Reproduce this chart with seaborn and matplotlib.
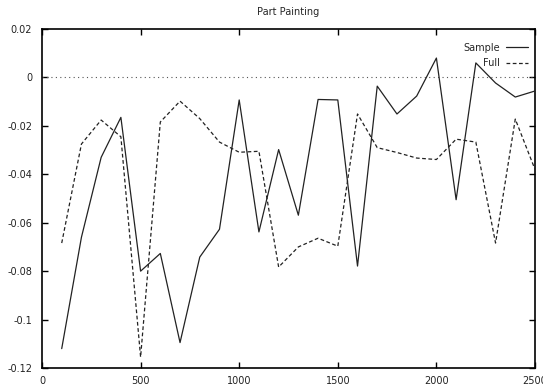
import matplotlib
matplotlib.use("Agg")
import matplotlib.pyplot as plt
import seaborn as sns
import pandas as pd
from matplotlib.ticker import FuncFormatter, FixedLocator

sns.set_theme(style="white")
plt.rcParams["font.family"] = ["DejaVu Sans"]
plt.rcParams["axes.unicode_minus"] = False

# Sample sizes along the x axis
steps = [100, 200, 300, 400, 500, 600, 700, 800, 900, 1000,
         1100, 1200, 1300, 1400, 1500, 1600, 1700, 1800, 1900, 2000,
         2100, 2200, 2300, 2400, 2500]

sample = [-0.112, -0.066, -0.033, -0.0165, -0.080, -0.0727, -0.1095, -0.0742, -0.0627, -0.0093,
          -0.0638, -0.0298, -0.0569, -0.0091, -0.0093, -0.0779, -0.0036, -0.0151, -0.0077, 0.0080,
          -0.0505, 0.0060, -0.0023, -0.0081, -0.0056]

full = [-0.0684, -0.0275, -0.0176, -0.0245, -0.1155, -0.0184, -0.0098, -0.0170, -0.0267, -0.0309,
        -0.0305, -0.0783, -0.0700, -0.0664, -0.0697, -0.0151, -0.0290, -0.0310, -0.0333, -0.0339,
        -0.0255, -0.0267, -0.0684, -0.0172, -0.0380]

x_ticks = [0, 500, 1000, 1500, 2000, 2500]
y_ticks = [0.02, 0, -0.02, -0.04, -0.06, -0.08, -0.1, -0.12]

df = pd.DataFrame({"n": steps, "Sample": sample, "Full": full})

fig = plt.figure(figsize=(5.43, 3.91), dpi=100)
ax = fig.add_axes([42 / 543, 1 - 368 / 391, (535 - 42) / 543, (368 - 29) / 391])

ax.axhline(0, color="#555555", linestyle=(0, (1, 3)), linewidth=0.8, zorder=1)

line_color = "#222222"
sns.lineplot(data=df, x="n", y="Sample", ax=ax, color=line_color,
             linewidth=0.9, label="Sample", zorder=3)
sns.lineplot(data=df, x="n", y="Full", ax=ax, color=line_color,
             linewidth=0.9, linestyle=(0, (3, 2)), label="Full", zorder=3)

ax.set_xlim(0, 2500)
ax.set_ylim(-0.12, 0.02)
ax.xaxis.set_major_locator(FixedLocator(x_ticks))
ax.yaxis.set_major_locator(FixedLocator(y_ticks))
ax.yaxis.set_major_formatter(FuncFormatter(lambda v, p: "%g" % round(v, 4)))
ax.set_xlabel("")
ax.set_ylabel("")
ax.set_title("Part Painting", fontsize=7, pad=10)

ax.tick_params(axis="both", which="major", direction="in", length=4, width=1,
               labelsize=7, top=True, right=True, left=True, bottom=True,
               color="black", pad=7, labelcolor="#222222")
ax.tick_params(axis="x", pad=6)

for s in ax.spines.values():
    s.set_color("black")
    s.set_linewidth(1.2)

leg = ax.legend(loc="upper right", frameon=False, markerfirst=False,
                fontsize=7, handlelength=2.3, handletextpad=0.6,
                borderaxespad=0.3, labelspacing=0.6, bbox_to_anchor=(1.0, 0.98))

fig.savefig("out.png", dpi=100, facecolor="white")
